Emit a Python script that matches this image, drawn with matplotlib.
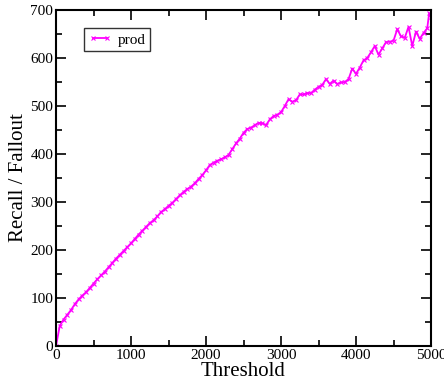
import matplotlib
matplotlib.use("Agg")
import matplotlib.pyplot as plt
from matplotlib.ticker import MultipleLocator

threshold = [0, 50, 100, 150, 200, 250, 300, 350, 400, 450, 500, 550, 600, 650, 700, 750,
             800, 850, 900, 950, 1000, 1050, 1100, 1150, 1200, 1250, 1300, 1350, 1400, 1450,
             1500, 1550, 1600, 1650, 1700, 1750, 1800, 1850, 1900, 1950, 2000, 2050, 2100,
             2150, 2200, 2250, 2300, 2350, 2400, 2450, 2500, 2550, 2600, 2650, 2700, 2750,
             2800, 2850, 2900, 2950, 3000, 3050, 3100, 3150, 3200, 3250, 3300, 3350, 3400,
             3450, 3500, 3550, 3600, 3650, 3700, 3750, 3800, 3850, 3900, 3950, 4000, 4050,
             4100, 4150, 4200, 4250, 4300, 4350, 4400, 4450, 4500, 4550, 4600, 4650, 4700,
             4750, 4800, 4850, 4900, 4950, 4975, 5000]
prod = [0, 42, 55, 65, 75, 87, 97, 105, 112, 121, 130, 139, 147, 155, 164, 173,
        182, 190, 198, 206, 214, 223, 232, 240, 248, 256, 262, 270, 279, 285,
        292, 298, 306, 314, 321, 327, 332, 339, 348, 356, 366, 377, 382,
        386, 389, 393, 398, 410, 422, 432, 444, 452, 455, 460, 465, 464,
        460, 472, 479, 482, 487, 500, 514, 509, 512, 524, 524, 527, 527,
        534, 540, 544, 556, 546, 553, 546, 549, 550, 556, 578, 567, 580,
        595, 600, 612, 625, 607, 620, 633, 634, 636, 660, 645, 642, 665,
        625, 655, 640, 652, 662, 693, 685]

plt.rcParams['font.family'] = ['Liberation Serif', 'DejaVu Serif']

fig = plt.figure(figsize=(4.44, 3.88), dpi=100)
ax = fig.add_axes([56/444, 42/388, (431-56)/444, (346-10)/388])
ax.plot(threshold, prod, color='#ff00ff', lw=1.3, marker='x', ms=2.5, mew=0.8, label='prod')
ax.set_xlim(0, 5000)
ax.set_ylim(0, 700)
ax.xaxis.set_major_locator(MultipleLocator(1000))
ax.xaxis.set_minor_locator(MultipleLocator(500))
ax.yaxis.set_major_locator(MultipleLocator(100))
ax.yaxis.set_minor_locator(MultipleLocator(50))
ax.tick_params(which='both', direction='in', top=True, right=True, width=1.2, labelsize=11, pad=2)
ax.tick_params(which='major', length=7)
ax.tick_params(which='minor', length=4)
for s in ax.spines.values():
    s.set_linewidth(1.5)
ax.set_xlabel('Threshold', fontsize=15, labelpad=0)
ax.set_ylabel('Recall / Fallout', fontsize=15, labelpad=2)
leg = ax.legend(loc='upper left', bbox_to_anchor=(0.075, 0.945), fontsize=11, frameon=True,
                fancybox=False, handlelength=1.5, borderpad=0.3, handletextpad=0.4,
                numpoints=2, borderaxespad=0)
leg.get_frame().set_edgecolor('black')
leg.get_frame().set_linewidth(1.0)
fig.savefig('out.png', dpi=100)
